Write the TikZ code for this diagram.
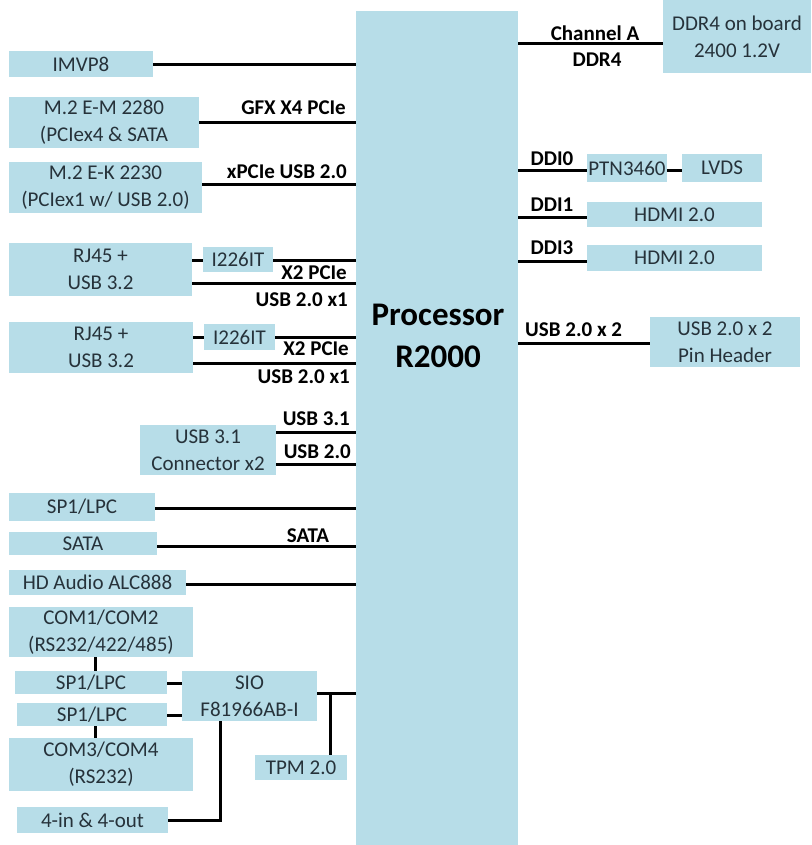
\documentclass[tikz,border=0pt]{standalone}
\usepackage{fontspec}
\setmainfont{Carlito}
\definecolor{boxfill}{RGB}{183,221,232}
\definecolor{boxtext}{RGB}{38,50,58}
\tikzset{
  box/.style={fill=boxfill,draw=none,inner sep=0pt,align=center,text=boxtext,font=\fontsize{21}{27}\selectfont},
  lbl/.style={inner sep=0pt,text=black,font=\fontsize{21}{25}\selectfont\bfseries},
  wire/.style={line width=3pt,draw=black},
}
\newcommand\bx[6]{\pgfmathsetmacro\bw{#4-#2}\pgfmathsetmacro\bh{#5-#3}%
  \node[box,minimum width=\bw pt,minimum height=\bh pt] (#1) at ({(#2+#4)/2},{(#3+#5)/2}) {#6};}
\begin{document}
\begin{tikzpicture}[x=1pt,y=-1pt]
\useasboundingbox[fill=white] (0,0) rectangle (811,845);
% processor
\bx{proc}{356}{11}{518}{845}{}
\node[inner sep=0pt,align=center,font=\fontsize{33}{42}\selectfont\bfseries,text=black] (proclbl) at (438,336) {Processor\\R2000};
% left boxes
\bx{imvp}{9}{51}{153}{77}{IMVP8}
\bx{m2em}{9}{97}{199}{148}{M.2 E-M 2280\\(PCIex4 \& SATA}
\bx{m2ek}{9}{162}{202}{213}{M.2 E-K 2230\\(PCIex1 w/ USB 2.0)}
\bx{rja}{9}{243}{192}{296}{RJ45 +\\USB 3.2}
\bx{ia}{203}{247}{273}{272}{I226IT}
\bx{rjb}{9}{322}{193}{373}{RJ45 +\\USB 3.2}
\bx{ib}{204}{324}{275}{350}{I226IT}
\bx{usbc}{140}{425}{276}{475}{USB 3.1\\Connector x2}
\bx{spi}{9}{493}{155}{521}{SP1/LPC}
\bx{sata}{9}{532}{157}{555}{SATA}
\bx{hda}{9}{570}{186}{595}{HD Audio ALC888}
\bx{coma}{9}{607}{193}{657}{COM1/COM2\\(RS232/422/485)}
\bx{spa}{15}{671}{167}{694}{SP1/LPC}
\bx{spb}{17}{703}{167}{726}{SP1/LPC}
\bx{sio}{182}{671}{317}{721}{SIO\\F81966AB-I}
\bx{comb}{9}{738}{193}{791}{COM3/COM4\\(RS232)}
\bx{gpio}{17}{807}{168}{833}{4-in \& 4-out}
\bx{tpm}{255}{755}{347}{780}{TPM 2.0}
% right boxes
\bx{ddr}{663}{0}{811}{73}{DDR4 on board\\2400 1.2V}
\bx{ptn}{587}{154}{667}{182}{PTN3460}
\bx{lvds}{682}{154}{762}{182}{LVDS}
\bx{hdmia}{587}{202}{762}{227}{HDMI 2.0}
\bx{hdmib}{587}{245}{762}{271}{HDMI 2.0}
\bx{usbph}{650}{317}{800}{367}{USB 2.0 x 2\\Pin Header}
% left connectors
\draw[wire] (imvp.east |- 0,65) -- (proc.west |- 0,65);
\draw[wire] (m2em.east |- 0,123) -- (proc.west |- 0,123);
\node[lbl,anchor=east] (lgfx) at (346,108) {GFX X4 PCIe};
\draw[wire] (m2ek.east |- 0,184) -- (proc.west |- 0,184);
\node[lbl,anchor=east] (lxp) at (347,172) {xPCIe USB 2.0};
\draw[wire] (rja.east |- 0,260) -- (ia.west |- 0,260);
\draw[wire] (ia.east |- 0,260) -- (proc.west |- 0,260);
\node[lbl,anchor=east] (lx2a) at (347,273) {X2 PCIe};
\draw[wire] (rja.east |- 0,283) -- (proc.west |- 0,283);
\node[lbl,anchor=east] (lu2a) at (348,300) {USB 2.0 x1};
\draw[wire] (rjb.east |- 0,337) -- (ib.west |- 0,337);
\draw[wire] (ib.east |- 0,337) -- (proc.west |- 0,337);
\node[lbl,anchor=east] (lx2b) at (349,349) {X2 PCIe};
\draw[wire] (rjb.east |- 0,363) -- (proc.west |- 0,363);
\node[lbl,anchor=east] (lu2b) at (350,377) {USB 2.0 x1};
\draw[wire] (usbc.east |- 0,432) -- (proc.west |- 0,432);
\node[lbl,anchor=east] (lu31) at (350,419) {USB 3.1};
\draw[wire] (usbc.east |- 0,464) -- (proc.west |- 0,464);
\node[lbl,anchor=east] (lu20) at (351,452) {USB 2.0};
\draw[wire] (spi.east |- 0,508) -- (proc.west |- 0,508);
\draw[wire] (sata.east |- 0,546) -- (proc.west |- 0,546);
\node[lbl] (lsata) at (308,536) {SATA};
\draw[wire] (hda.east |- 0,584) -- (proc.west |- 0,584);
\draw[wire] (coma.south -| 95,0) -- (spa.north -| 95,0);
\draw[wire] (spa.east |- 0,683) -- (sio.west |- 0,683);
\draw[wire] (spb.east |- 0,715) -- (sio.west |- 0,715);
\draw[wire] (spb.south -| 95,0) -- (comb.north -| 95,0);
\draw[wire] (gpio.east |- 0,820) -| (sio.south -| 220,0);
\draw[wire] (sio.east |- 0,693) -- (proc.west |- 0,693);
\draw[wire] (tpm.north -| 330,0) -- (330,693);
% right connectors
\draw[wire] (proc.east |- 0,44) -- (ddr.west |- 0,44);
\node[lbl] (lcha) at (595,33) {Channel A};
\node[lbl] (lddr) at (597,60) {DDR4};
\draw[wire] (proc.east |- 0,171) -- (ptn.west |- 0,171);
\node[lbl] (ld0) at (552,159) {DDI0};
\draw[wire] (ptn.east |- 0,171) -- (lvds.west |- 0,171);
\draw[wire] (proc.east |- 0,217) -- (hdmia.west |- 0,217);
\node[lbl] (ld1) at (552,205) {DDI1};
\draw[wire] (proc.east |- 0,261) -- (hdmib.west |- 0,261);
\node[lbl] (ld3) at (552,248) {DDI3};
\draw[wire] (proc.east |- 0,343) -- (usbph.west |- 0,343);
\node[lbl,anchor=west] (lusb2) at (525,330) {USB 2.0 x 2};
\end{tikzpicture}
\end{document}
